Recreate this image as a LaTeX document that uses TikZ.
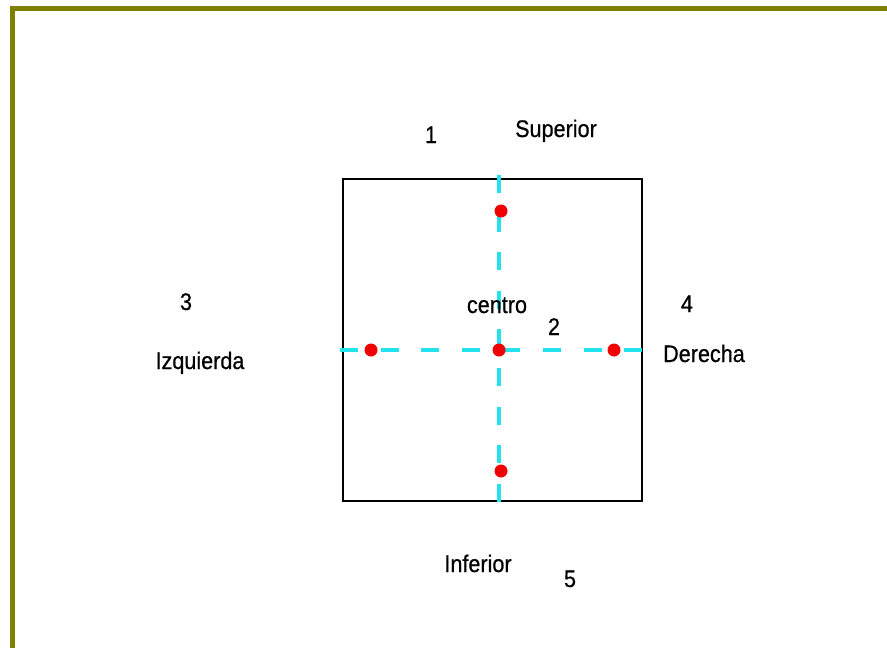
\documentclass[tikz,border=0pt]{standalone}
\usepackage{fontspec}
\usetikzlibrary{positioning}
\newfontfamily\lblfont[FakeStretch=0.9,FakeBold=0.6]{Liberation Sans}
\definecolor{frOlive}{HTML}{808000}
\definecolor{axCyan}{HTML}{22E2EE}
\definecolor{ptRed}{HTML}{F00000}
\tikzset{
  lbl/.style={font=\lblfont\fontsize{24}{26}\selectfont, inner sep=0pt, anchor=base},
  pt/.style={circle, fill=ptRed, inner sep=0pt, minimum size=13pt},
  axline/.style={draw=axCyan, line width=4.5pt},
  sqbox/.style={draw=black, line width=2pt, minimum width=299pt, minimum height=322pt, inner sep=0pt},
}

\begin{document}
\begin{tikzpicture}[x=1pt,y=-1pt]
  \useasboundingbox (0,0) rectangle (887,648);
  % frame
  \fill[frOlive] (10,6) rectangle (887,11);
  \fill[frOlive] (10,6) rectangle (15,648);
  \node[sqbox] (sq) at (492.5,340) {};
  \coordinate (vtop) at (499,175);
  \coordinate (vbot) at (499,502);
  \coordinate (hleft) at (340,350);
  \coordinate (hright) at (642,350);
  \draw[axline, dash pattern=on 18pt off 20.6pt] (vtop)--(vbot);
  \draw[axline, dash pattern=on 18pt off 22.6pt] (hleft)--(hright);
  \node[pt] (pS) at (501,211) {};
  \node[pt] (pC) at (499,350) {};
  \node[pt] (pL) at (371,350) {};
  \node[pt] (pR) at (614,350) {};
  \node[pt] (pI) at (501,471) {};
  \foreach \n/\x/\y/\t in {n1/431/143/1, sup/556/137/Superior, cen/497/313/centro,
      n2/554/335/2, n3/186/310/3, izq/200/369/Izquierda, n4/687/312/4,
      der/704/362/Derecha, inf/478/572/Inferior, n5/570/587/5}
    {\node[lbl] (\n) at (\x,\y) {\t};}
\end{tikzpicture}
\end{document}
